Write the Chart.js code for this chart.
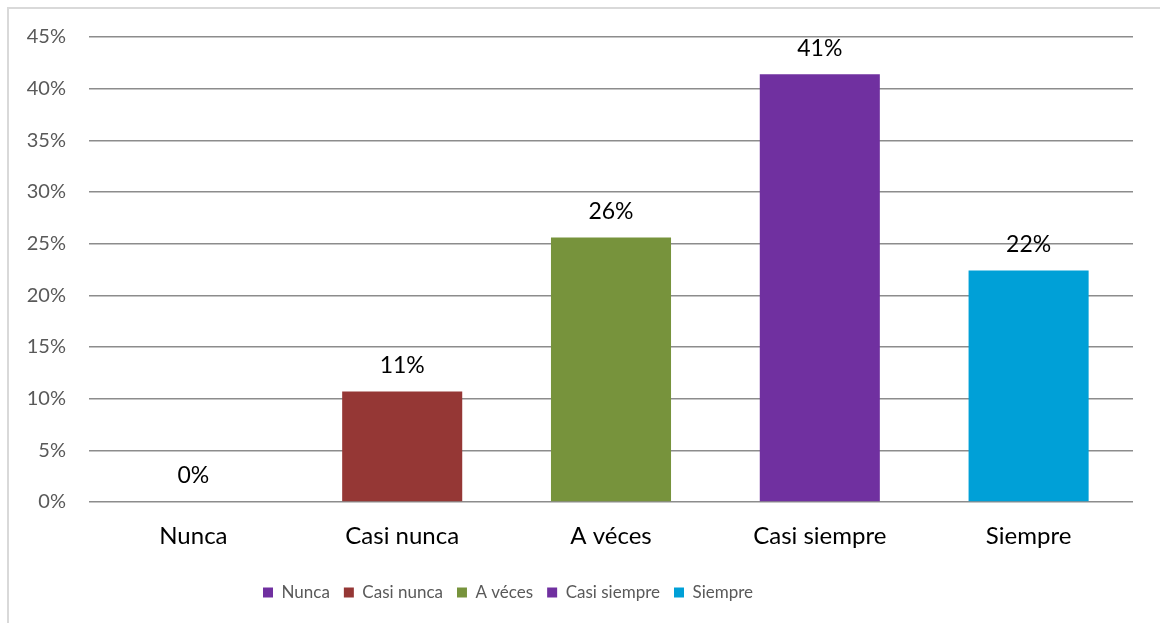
<!DOCTYPE html>
<html>
<head>
<meta charset="utf-8">
<script src="https://cdn.jsdelivr.net/npm/chart.js@4.4.1/dist/chart.umd.min.js"></script>
<style>
  html, body { margin: 0; padding: 0; background: #fff; }
  #wrap { position: relative; width: 1160px; height: 623px; }
</style>
</head>
<body>
<div id="wrap"><canvas id="freqChart" width="1160" height="623"></canvas></div>
<script>
// answer categories and their share (%)
const categories = ['Nunca', 'Casi nunca', 'A véces', 'Casi siempre', 'Siempre'];
const shares = [0, 10.7, 25.6, 41.4, 22.4];
const barColors = ['#7030A0', '#953735', '#77933C', '#7030A0', '#00A0D7'];
const yTicks = [0, 5, 10, 15, 20, 25, 30, 35, 40, 45];

const FONT = 'Lato, "Open Sans", sans-serif';
const LEGEND_PAD = 14;

// thin grey frame along the top and left edge
const framePlugin = {
  id: 'frame',
  beforeDraw(chart) {
    const ctx = chart.ctx;
    ctx.save();
    ctx.fillStyle = '#fff';
    ctx.fillRect(0, 0, chart.width, chart.height);
    ctx.strokeStyle = '#d9d9d9';
    ctx.lineWidth = 2;
    ctx.beginPath();
    ctx.moveTo(8, chart.height);
    ctx.lineTo(8, 8);
    ctx.lineTo(chart.width, 8);
    ctx.stroke();
    ctx.restore();
    // legend sits a bit left of centre
    chart.legend.left = 263 - LEGEND_PAD;
  }
};

// value labels above each bar
const valueLabels = {
  id: 'valueLabels',
  afterDatasetsDraw(chart) {
    const ctx = chart.ctx;
    const meta = chart.getDatasetMeta(0);
    ctx.save();
    ctx.font = '23px ' + FONT;
    ctx.fillStyle = '#000';
    ctx.textAlign = 'center';
    ctx.textBaseline = 'middle';
    meta.data.forEach((bar, i) => {
      ctx.fillText(Math.round(shares[i]) + '%', bar.x, bar.y - 26);
    });
    ctx.restore();
  }
};

new Chart(document.getElementById('freqChart').getContext('2d'), {
  type: 'bar',
  data: {
    labels: categories,
    datasets: [{
      data: shares,
      backgroundColor: barColors,
      barPercentage: 0.575,
      categoryPercentage: 1
    }]
  },
  options: {
    responsive: false,
    animation: false,
    layout: { padding: { top: 37, right: 27, left: 0, bottom: 12 } },
    scales: {
      x: {
        afterFit(scale) { scale.height = 68; },
        grid: { display: false, drawTicks: false },
        border: { display: false },
        ticks: { color: '#000', font: { family: FONT, size: 24 }, padding: 20 }
      },
      y: {
        min: 0,
        max: 45,
        afterBuildTicks(scale) { scale.ticks = yTicks.map(v => ({ value: v })); },
        afterFit(scale) { scale.width = 89; },
        grid: { color: '#8c8c8c', lineWidth: 1.5, drawTicks: false },
        border: { display: false },
        ticks: {
          color: '#595959',
          font: { family: FONT, size: 20 },
          padding: 23,
          callback: v => v + '%'
        }
      }
    },
    plugins: {
      tooltip: { enabled: false },
      legend: {
        position: 'bottom',
        align: 'start',
        labels: {
          color: '#595959',
          font: { family: FONT, size: 17 },
          boxWidth: 10,
          boxHeight: 10,
          padding: LEGEND_PAD,
          generateLabels: () => categories.map((c, i) => ({
            text: c,
            fillStyle: barColors[i],
            strokeStyle: barColors[i],
            lineWidth: 0,
            fontColor: '#595959',
            index: i
          }))
        }
      }
    }
  },
  plugins: [framePlugin, valueLabels]
});
</script>
</body>
</html>
